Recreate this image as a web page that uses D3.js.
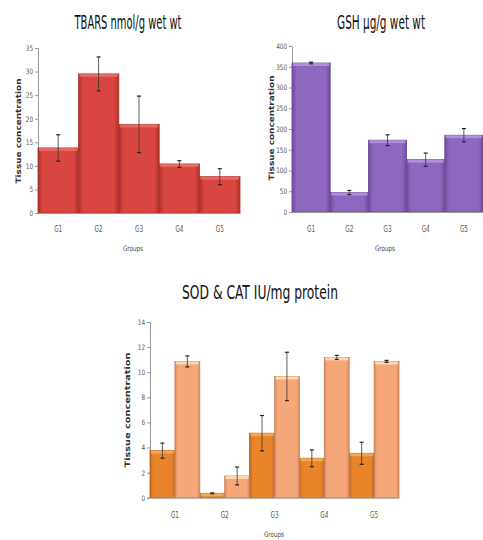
<!DOCTYPE html>
<html>
<head>
<meta charset="utf-8">
<script src="https://cdn.jsdelivr.net/npm/d3@7"></script>
<style>
  body { margin: 0; background: #fff; }
  text { font-family: "DejaVu Sans Condensed", "Liberation Sans", sans-serif; }
</style>
</head>
<body>
<svg id="chart"></svg>
<script>
const width = 483, height = 540;

// data
const groups = ['G1', 'G2', 'G3', 'G4', 'G5'];
const tbars = [13.8, 29.5, 18.8, 10.4, 7.7];
const tbarsErr = [2.8, 3.6, 6.0, 0.7, 1.7];
const gsh = [359, 47, 173, 126, 185];
const gshErr = [2, 5, 13, 16, 16];
const sod = [3.75, 0.35, 5.14, 3.14, 3.54];
const sodErr = [0.6, 0.03, 1.41, 0.67, 0.88];
const cat = [10.86, 1.73, 9.66, 11.18, 10.86];
const catErr = [0.44, 0.71, 1.93, 0.16, 0.08];
const tbarsTicks = [0, 5, 10, 15, 20, 25, 30, 35];
const gshTicks = [0, 50, 100, 150, 200, 250, 300, 350, 400];
const sodTicks = [0, 2, 4, 6, 8, 10, 12, 14];

const svg = d3.select('#chart')
  .attr('width', width)
  .attr('height', height)
  .attr('viewBox', [0, 0, width, height]);

const defs = svg.append('defs');
function makeGrad(id, edge, mid) {
  const g = defs.append('linearGradient').attr('id', id)
    .attr('x1', '0%').attr('x2', '100%').attr('y1', '0%').attr('y2', '0%');
  g.append('stop').attr('offset', '0%').attr('stop-color', edge);
  g.append('stop').attr('offset', '12%').attr('stop-color', mid);
  g.append('stop').attr('offset', '88%').attr('stop-color', mid);
  g.append('stop').attr('offset', '100%').attr('stop-color', edge);
}
makeGrad('gRed', '#b0302c', '#d9463f');
makeGrad('gPurple', '#6f4a9e', '#8d68c0');
makeGrad('gOrange', '#c0651a', '#e8842a');
makeGrad('gPeach', '#d08a62', '#f6a77a');

function drawChart(o) {
  const g = svg.append('g');
  const y = d3.scaleLinear().domain(o.domain).range([o.bottom, o.top]);
  const x0 = d3.scaleBand().domain(groups).range([o.left, o.right]).padding(0);

  // title
  g.append('text').attr('x', o.titleX).attr('y', o.titleY)
    .attr('text-anchor', 'middle').attr('font-size', o.titleSize)
    .attr('fill', '#111').attr('font-weight', 500)
    .attr('textLength', o.titleLen).attr('lengthAdjust', 'spacingAndGlyphs')
    .text(o.title);

  // y axis
  const ya = g.append('g').attr('transform', `translate(${o.left},0)`)
    .call(d3.axisLeft(y).tickValues(o.ticks).tickSize(3).tickPadding(2));
  ya.select('.domain').attr('stroke', '#9a9a9a');
  ya.selectAll('.tick line').attr('stroke', '#9a9a9a');
  ya.selectAll('.tick text').attr('fill', '#555').attr('font-size', 7.5)
    .style('font-family', '"DejaVu Sans Condensed", sans-serif')
    .attr('textLength', (d) => String(d).length * 3.6).attr('lengthAdjust', 'spacingAndGlyphs');

  // y label
  g.append('text')
    .attr('transform', `translate(${o.ylabX},${o.ylabY}) rotate(-90)`)
    .attr('text-anchor', 'middle').attr('font-size', 7.5).attr('font-weight', 'bold')
    .attr('fill', '#333')
    .attr('textLength', o.ylabLen).attr('lengthAdjust', 'spacingAndGlyphs')
    .style('font-family', '"DejaVu Sans", sans-serif')
    .text('Tissue concentration');

  // bars
  const series = o.series;
  const x1 = d3.scaleBand().domain(d3.range(series.length)).range([0, x0.bandwidth()]).padding(0);
  series.forEach((s, si) => {
    const bars = g.append('g');
    groups.forEach((grp, i) => {
      const bx = x0(grp) + x1(si), bw = x1.bandwidth();
      const top = y(s.values[i]);
      bars.append('rect').attr('x', bx).attr('y', top)
        .attr('width', bw).attr('height', y(0) - top)
        .attr('fill', `url(#${s.grad})`).attr('stroke', s.stroke).attr('stroke-width', 0.8);
      bars.append('rect').attr('x', bx + 1).attr('y', top)
        .attr('width', bw - 2).attr('height', Math.min(3, y(0) - top))
        .attr('fill', s.cap).attr('opacity', 0.85);
    });
  });

  // error bars
  series.forEach((s, si) => {
    groups.forEach((grp, i) => {
      const cx = x0(grp) + x1(si) + x1.bandwidth() / 2;
      const hi = y(s.values[i] + s.err[i]), lo = y(s.values[i] - s.err[i]);
      g.append('line').attr('x1', cx).attr('x2', cx).attr('y1', hi).attr('y2', lo)
        .attr('stroke', '#333').attr('stroke-width', 0.8);
      [hi, lo].forEach((yy) => {
        g.append('line').attr('x1', cx - 2).attr('x2', cx + 2).attr('y1', yy).attr('y2', yy)
          .attr('stroke', '#222').attr('stroke-width', 1.2);
      });
    });
  });

  // x axis
  const xa = g.append('g').attr('transform', `translate(0,${o.bottom})`)
    .call(d3.axisBottom(x0).tickSize(0).tickPadding(o.xPad));
  xa.select('.domain').attr('stroke', '#9a9a9a');
  xa.selectAll('.tick text').attr('fill', '#555').attr('font-size', 8)
    .style('font-family', '"DejaVu Sans Condensed", sans-serif')
    .attr('textLength', 8).attr('lengthAdjust', 'spacingAndGlyphs');

  g.append('text').attr('x', o.groupsX).attr('y', o.groupsY)
    .attr('text-anchor', 'middle').attr('font-size', 7.5).attr('fill', '#444')
    .attr('textLength', 20).attr('lengthAdjust', 'spacingAndGlyphs')
    .text('Groups');
}

drawChart({
  title: 'TBARS nmol/g wet wt', titleX: 128, titleY: 29, titleSize: 19, titleLen: 107,
  left: 38, right: 240, top: 48, bottom: 213, domain: [0, 35], ticks: tbarsTicks,
  ylabX: 21, ylabY: 131, ylabLen: 105, xPad: 13, groupsX: 133, groupsY: 251,
  series: [{ values: tbars, err: tbarsErr, grad: 'gRed', stroke: '#a8302c', cap: '#e8706a' }]
});

drawChart({
  title: 'GSH \u00b5g/g wet wt', titleX: 381, titleY: 29, titleSize: 19, titleLen: 88,
  left: 292, right: 483, top: 46, bottom: 212, domain: [0, 400], ticks: gshTicks,
  ylabX: 274, ylabY: 128, ylabLen: 105, xPad: 14, groupsX: 385, groupsY: 251,
  series: [{ values: gsh, err: gshErr, grad: 'gPurple', stroke: '#6a4795', cap: '#b497dc' }]
});

drawChart({
  title: 'SOD & CAT IU/mg protein', titleX: 260, titleY: 299, titleSize: 19, titleLen: 156,
  left: 150, right: 399, top: 322, bottom: 497.7, domain: [0, 14], ticks: sodTicks,
  ylabX: 130, ylabY: 410, ylabLen: 115, xPad: 15, groupsX: 274, groupsY: 537,
  series: [
    { values: sod, err: sodErr, grad: 'gOrange', stroke: '#b5601a', cap: '#f7ab5c' },
    { values: cat, err: catErr, grad: 'gPeach', stroke: '#c98058', cap: '#fde3b8' }
  ]
});
</script>
</body>
</html>
